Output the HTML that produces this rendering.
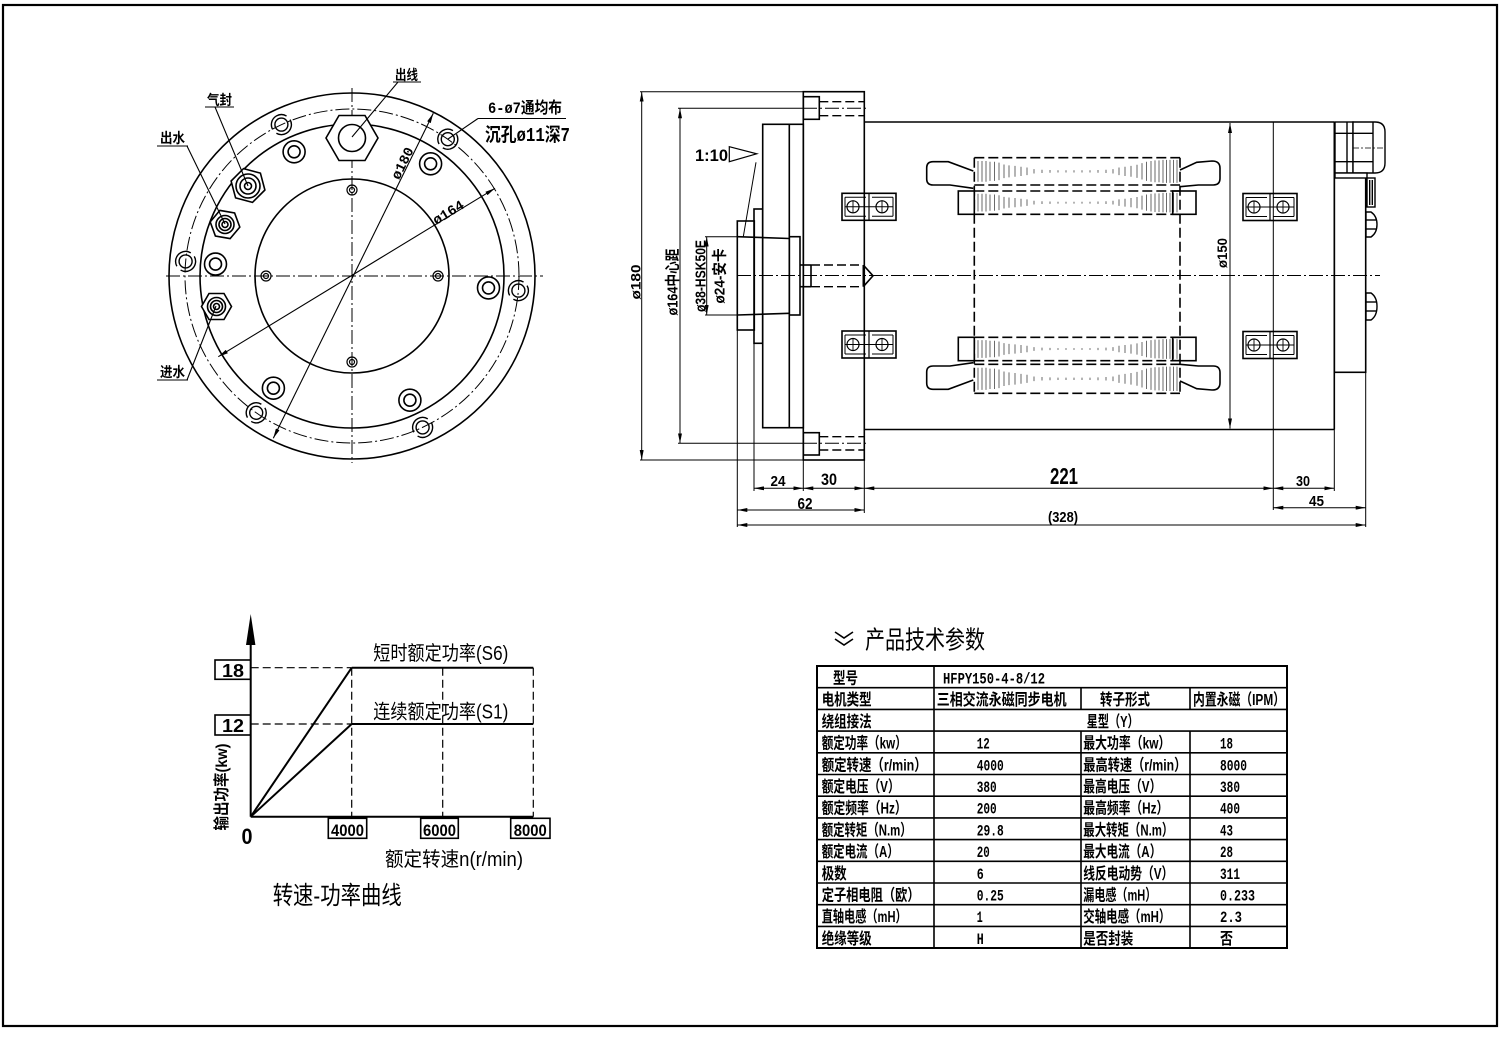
<!DOCTYPE html>
<html><head><meta charset="utf-8">
<style>
html,body{margin:0;padding:0;background:#fff;}
svg{display:block;}
text{font-family:"Liberation Sans","Noto Sans CJK SC",sans-serif;fill:#000;}
.b{font-weight:700;}
.m{font-family:"Liberation Mono","Noto Sans CJK SC",monospace;font-weight:700;}
</style></head><body>
<svg width="1500" height="1038" viewBox="0 0 1500 1038" xmlns="http://www.w3.org/2000/svg">
<defs>
<marker id="a" viewBox="0 0 10 4" refX="10" refY="2" markerWidth="10" markerHeight="4" markerUnits="userSpaceOnUse" orient="auto-start-reverse"><path d="M0,0 L10,2 L0,4 z" fill="#000"/></marker>
<g id="hatch" stroke="#444" stroke-width="0.8">
<line x1="978" y1="0.12" x2="978" y2="0.88"/><line x1="982" y1="0.12" x2="982" y2="0.88"/><line x1="986" y1="0.12" x2="986" y2="0.88"/><line x1="990" y1="0.15" x2="990" y2="0.85"/><line x1="994.5" y1="0.15" x2="994.5" y2="0.85"/><line x1="999" y1="0.18" x2="999" y2="0.82"/>
<line x1="1004" y1="0.25" x2="1004" y2="0.75"/><line x1="1009" y1="0.28" x2="1009" y2="0.72"/><line x1="1015" y1="0.3" x2="1015" y2="0.7"/><line x1="1021" y1="0.33" x2="1021" y2="0.67"/><line x1="1027" y1="0.36" x2="1027" y2="0.64"/>
<line x1="1034" y1="0.42" x2="1034" y2="0.58"/><line x1="1042" y1="0.44" x2="1042" y2="0.56"/><line x1="1050" y1="0.45" x2="1050" y2="0.55"/><line x1="1058" y1="0.46" x2="1058" y2="0.54"/><line x1="1066" y1="0.46" x2="1066" y2="0.54"/><line x1="1074" y1="0.46" x2="1074" y2="0.54"/><line x1="1082" y1="0.46" x2="1082" y2="0.54"/><line x1="1090" y1="0.46" x2="1090" y2="0.54"/><line x1="1098" y1="0.45" x2="1098" y2="0.55"/><line x1="1106" y1="0.44" x2="1106" y2="0.56"/><line x1="1113" y1="0.42" x2="1113" y2="0.58"/>
<line x1="1119" y1="0.36" x2="1119" y2="0.64"/><line x1="1125" y1="0.33" x2="1125" y2="0.67"/><line x1="1131" y1="0.3" x2="1131" y2="0.7"/><line x1="1137" y1="0.26" x2="1137" y2="0.74"/>
<line x1="1142" y1="0.2" x2="1142" y2="0.8"/><line x1="1146.5" y1="0.15" x2="1146.5" y2="0.85"/><line x1="1151" y1="0.12" x2="1151" y2="0.88"/><line x1="1155" y1="0.1" x2="1155" y2="0.9"/><line x1="1159" y1="0.1" x2="1159" y2="0.9"/><line x1="1163" y1="0.08" x2="1163" y2="0.92"/><line x1="1166.5" y1="0.08" x2="1166.5" y2="0.92"/><line x1="1170" y1="0.08" x2="1170" y2="0.92"/><line x1="1173.5" y1="0.08" x2="1173.5" y2="0.92"/><line x1="1177" y1="0.08" x2="1177" y2="0.92"/>
</g>
<g id="blk" fill="none" stroke="#000">
<rect x="0" y="0" width="54" height="27" stroke-width="1.6"/>
<line x1="27" y1="0" x2="27" y2="27" stroke-width="1.2"/>
<line x1="3" y1="4" x2="24" y2="4" stroke-width="1"/><line x1="3" y1="23" x2="24" y2="23" stroke-width="1"/>
<line x1="30" y1="4" x2="51" y2="4" stroke-width="1"/><line x1="30" y1="23" x2="51" y2="23" stroke-width="1"/>
<line x1="3" y1="4" x2="3" y2="23" stroke-width="1"/><line x1="51" y1="4" x2="51" y2="23" stroke-width="1"/>
<circle cx="11" cy="13.5" r="6" stroke-width="1.2"/><circle cx="40" cy="13.5" r="6" stroke-width="1.2"/>
<line x1="3" y1="13.5" x2="51" y2="13.5" stroke-width="1"/>
<line x1="11" y1="7" x2="11" y2="20" stroke-width="0.9"/><line x1="40" y1="7" x2="40" y2="20" stroke-width="0.9"/>
</g>
<g id="bolt" fill="none" stroke="#000" stroke-width="1.4">
<circle r="6.5"/><circle r="10" stroke-dasharray="26 5.4" transform="rotate(-30)"/>
</g>
<g id="dh" fill="none" stroke="#000" stroke-width="1.6">
<circle r="11"/><circle r="6"/>
</g>
<g id="sh" fill="none" stroke="#000" stroke-width="1.2">
<circle r="5"/><circle r="2.5"/>
</g>
</defs>

<rect x="3" y="5" width="1494" height="1021" fill="none" stroke="#000" stroke-width="2.2"/>

<!-- ================= LEFT CIRCLE VIEW ================= -->
<g fill="none" stroke="#000" stroke-width="1.6">
<circle cx="352" cy="276" r="183"/>
<circle cx="352" cy="276" r="152"/>
<circle cx="352" cy="276" r="97"/>
</g>
<circle cx="352" cy="276" r="167" fill="none" stroke="#000" stroke-width="1" stroke-dasharray="14 3 2 3"/>
<g stroke="#000" stroke-width="1" stroke-dasharray="14 3 2 3">
<line x1="166" y1="276" x2="543" y2="276"/>
<line x1="352" y1="88" x2="352" y2="463"/>
</g>
<use href="#bolt" x="518.4" y="290.6"/>
<use href="#bolt" x="422.6" y="427.4"/>
<use href="#bolt" x="256.2" y="412.8"/>
<use href="#bolt" x="185.6" y="261.4"/>
<use href="#bolt" x="281.4" y="124.6"/>
<use href="#bolt" x="447.8" y="139.2"/>
<use href="#dh" x="488.5" y="287.9"/>
<use href="#dh" x="409.9" y="400.2"/>
<use href="#dh" x="273.4" y="388.2"/>
<use href="#dh" x="215.5" y="264.1"/>
<use href="#dh" x="294.1" y="151.8"/>
<use href="#dh" x="430.6" y="163.8"/>
<use href="#sh" x="352" y="190"/>
<use href="#sh" x="266" y="276"/>
<use href="#sh" x="438" y="276"/>
<use href="#sh" x="352" y="362"/>

<g fill="#fff" stroke="#000" stroke-width="1.6">
<polygon points="326,138 339,115.5 365,115.5 378,138 365,160.5 339,160.5"/>
<circle cx="352" cy="138" r="13.5"/>
<polygon points="264.9,190.5 252.5,202.9 235.6,198.4 231.1,181.5 243.5,169.1 260.4,173.6" transform="translate(0,-0.5)"/>
<circle cx="248" cy="186" r="12"/><circle cx="248" cy="186" r="8"/><circle cx="248" cy="186" r="3.5"/>
<polygon points="239.8,227.1 230.1,238.6 215.4,236 210.2,221.9 219.9,210.4 234.6,213"/>
<circle cx="225" cy="224.5" r="9"/><circle cx="225" cy="224.5" r="6"/><circle cx="225" cy="224.5" r="3"/>
<polygon points="231.5,306.5 224,319.5 209,319.5 201.5,306.5 209,293.5 224,293.5"/>
<circle cx="216.5" cy="306.5" r="9"/><circle cx="216.5" cy="306.5" r="6"/><circle cx="216.5" cy="306.5" r="3"/>
</g>

<g stroke="#000" stroke-width="1.1" fill="none">
<line x1="393" y1="82" x2="421" y2="82"/><line x1="398" y1="82" x2="352" y2="137"/>
<line x1="205" y1="107" x2="234" y2="107"/><line x1="215" y1="107" x2="248" y2="186"/>
<line x1="157" y1="146" x2="188" y2="146"/><line x1="187" y1="146" x2="225" y2="224"/>
<line x1="157" y1="380" x2="188" y2="380"/><line x1="187" y1="380" x2="216" y2="306"/>
<line x1="478" y1="118.5" x2="566" y2="118.5"/><line x1="478" y1="118.5" x2="448" y2="139"/>
<line x1="273.3" y1="438.3" x2="433.3" y2="113.3" marker-start="url(#a)" marker-end="url(#a)"/>
<line x1="218.3" y1="356.7" x2="495" y2="188.3" marker-start="url(#a)" marker-end="url(#a)"/>
</g>
<g class="b">
<text x="395" y="80" font-size="14" textLength="23" lengthAdjust="spacingAndGlyphs">出线</text>
<text x="207" y="105" font-size="14" textLength="25" lengthAdjust="spacingAndGlyphs">气封</text>
<text x="160" y="143" font-size="14" textLength="25" lengthAdjust="spacingAndGlyphs">出水</text>
<text x="160" y="377" font-size="14" textLength="25" lengthAdjust="spacingAndGlyphs">进水</text>
</g>
<text class="m" x="488" y="113" font-size="16" textLength="74" lengthAdjust="spacingAndGlyphs">6-ø7通均布</text>
<text class="m" x="485" y="141" font-size="19" textLength="85" lengthAdjust="spacingAndGlyphs">沉孔ø11深7</text>
<text class="m" transform="translate(406.5,165.2) rotate(-63.8)" font-size="14" text-anchor="middle" textLength="34" lengthAdjust="spacingAndGlyphs">ø180</text>
<text class="m" transform="translate(450.6,216.3) rotate(-31.5)" font-size="14" text-anchor="middle" textLength="34" lengthAdjust="spacingAndGlyphs">ø164</text>

<!-- ================= RIGHT SIDE VIEW ================= -->
<g fill="none" stroke="#000" stroke-width="1.6">
<rect x="803.3" y="91.7" width="61" height="368.3"/>
<rect x="762.7" y="124.3" width="40.6" height="303.4"/>
<line x1="789.3" y1="124.3" x2="789.3" y2="427.7"/>
<rect x="754" y="209" width="8.7" height="134.3"/>
<rect x="737.3" y="221" width="17" height="109"/>
<line x1="737.3" y1="236.7" x2="789.3" y2="238.5"/>
<line x1="737.3" y1="315" x2="789.3" y2="313.3"/>
<rect x="789.3" y="236.7" width="10.7" height="78.3"/>
<rect x="803.3" y="96.7" width="16" height="22.6"/>
<rect x="803.3" y="432.7" width="16" height="22.3"/>
<line x1="864.3" y1="122" x2="1334.3" y2="122"/>
<line x1="864.3" y1="429.5" x2="1334.3" y2="429.5"/>
<line x1="1334.3" y1="122" x2="1334.3" y2="429.5"/>
<rect x="1334.3" y="176.7" width="31.4" height="195.6"/>
<line x1="800" y1="265" x2="811" y2="265"/><line x1="800" y1="286.7" x2="811" y2="286.7"/><line x1="811" y1="265" x2="811" y2="286.7"/>
<polyline points="863.3,265 873,275.8 863.3,286.7"/>
<line x1="863.3" y1="265" x2="863.3" y2="286.7"/>
</g>
<g fill="none" stroke="#000" stroke-width="1.4" stroke-dasharray="9 4">
<line x1="819.3" y1="101.7" x2="864.3" y2="101.7"/><line x1="819.3" y1="115.7" x2="864.3" y2="115.7"/>
<line x1="819.3" y1="436.7" x2="864.3" y2="436.7"/><line x1="819.3" y1="450" x2="864.3" y2="450"/>
<line x1="811" y1="265" x2="863" y2="265"/><line x1="811" y1="286.7" x2="863" y2="286.7"/>
</g>
<g stroke="#000" stroke-width="1" stroke-dasharray="14 3 2 3">
<line x1="803" y1="108.3" x2="866" y2="108.3"/>
<line x1="803" y1="443.3" x2="866" y2="443.3"/>
<line x1="737" y1="275.5" x2="1380" y2="275.5"/>
</g>

<g fill="#fff" stroke="#000" stroke-width="1.4">
<rect x="1335" y="122" width="18" height="51"/>
<path d="M1353,122 L1375,122 Q1385,122 1385,132 L1385,163 Q1385,173 1375,173 L1353,173 Z"/>
<line x1="1335" y1="133.3" x2="1373" y2="133.3"/><line x1="1335" y1="161.7" x2="1373" y2="161.7"/>
<line x1="1373" y1="122" x2="1373" y2="173"/><line x1="1347" y1="122" x2="1347" y2="173"/>
<rect x="1335" y="173" width="32" height="5"/>
<rect x="1367" y="178" width="8" height="29"/>
<line x1="1369.7" y1="180" x2="1369.7" y2="205"/><line x1="1372.3" y1="180" x2="1372.3" y2="205"/>
<path d="M1366,212 L1371,212 Q1377,216 1377,224.5 Q1377,233 1371,237 L1366,237 Z"/>
<line x1="1366" y1="220" x2="1376" y2="220"/><line x1="1366" y1="229" x2="1376" y2="229"/>
<path d="M1366,293 L1371,293 Q1377,297 1377,306.5 Q1377,316 1371,320 L1366,320 Z"/>
<line x1="1366" y1="302" x2="1376" y2="302"/><line x1="1366" y1="311" x2="1376" y2="311"/>
</g>
<line x1="1353" y1="148" x2="1385" y2="148" stroke="#000" stroke-width="0.8" stroke-dasharray="6 2 2 2"/>

<use href="#blk" x="842" y="193.3"/>
<use href="#blk" x="842" y="331"/>
<use href="#blk" x="1243" y="193.5"/>
<use href="#blk" x="1243" y="331.5"/>

<use href="#hatch" transform="translate(0,157.7) scale(1,27.3)"/>
<use href="#hatch" transform="translate(0,191) scale(1,23.3)"/>
<use href="#hatch" transform="translate(0,337.3) scale(1,23.4)"/>
<use href="#hatch" transform="translate(0,364.3) scale(1,29)"/>
<g fill="none" stroke="#000" stroke-width="1.6" stroke-dasharray="10 4">
<line x1="974.3" y1="157.7" x2="974.3" y2="393.3"/>
<line x1="1180" y1="157.7" x2="1180" y2="393.3"/>
<line x1="974.3" y1="157.7" x2="1180" y2="157.7"/>
<line x1="974.3" y1="185" x2="1180" y2="185"/>
<line x1="974.3" y1="191" x2="1180" y2="191"/>
<line x1="974.3" y1="214.3" x2="1180" y2="214.3"/>
<line x1="974.3" y1="337.3" x2="1180" y2="337.3"/>
<line x1="974.3" y1="360.7" x2="1180" y2="360.7"/>
<line x1="974.3" y1="364.3" x2="1180" y2="364.3"/>
<line x1="974.3" y1="393.3" x2="1180" y2="393.3"/>
</g>
<g fill="none" stroke="#000" stroke-width="1.6">
<rect x="958.3" y="191" width="16" height="23.3"/>
<rect x="958.3" y="337.3" width="16" height="23.4"/>
<rect x="1172.7" y="191" width="23.3" height="23.3"/>
<rect x="1172.7" y="337.3" width="23.3" height="23.4"/>
<path fill="none" d="M973.3,171 L948.3,161.7 L933,161.7 Q926.7,161.7 926.7,168 L926.7,179 Q926.7,185 933.3,185 L950,185 L973.3,188.3"/>
<path fill="none" d="M1180,170 L1196.7,162.3 L1212,161 Q1220,161 1220,168.3 L1220,178.3 Q1220,185 1213.3,185 L1198.3,185 L1180,186.7"/>
<g transform="translate(0,551) scale(1,-1)">
<path fill="none" d="M973.3,171 L948.3,161.7 L933,161.7 Q926.7,161.7 926.7,168 L926.7,179 Q926.7,185 933.3,185 L950,185 L973.3,188.3"/>
<path fill="none" d="M1180,170 L1196.7,162.3 L1212,161 Q1220,161 1220,168.3 L1220,178.3 Q1220,185 1213.3,185 L1198.3,185 L1180,186.7"/>
</g>
</g>

<g stroke="#000" stroke-width="1" fill="none">
<line x1="640" y1="91.7" x2="803.3" y2="91.7"/>
<line x1="640" y1="460" x2="803.3" y2="460"/>
<line x1="678" y1="108.3" x2="803.3" y2="108.3"/>
<line x1="678" y1="443.3" x2="803.3" y2="443.3"/>
<line x1="705" y1="236.7" x2="737.3" y2="236.7"/>
<line x1="705" y1="315" x2="737.3" y2="315"/>
<line x1="737.3" y1="330" x2="737.3" y2="527"/>
<line x1="754" y1="343.3" x2="754" y2="491"/>
<line x1="803.3" y1="460" x2="803.3" y2="491"/>
<line x1="864.3" y1="460" x2="864.3" y2="513"/>
<line x1="1273.3" y1="122" x2="1273.3" y2="510"/>
<line x1="1334.3" y1="429.5" x2="1334.3" y2="491"/>
<line x1="1365.7" y1="372.3" x2="1365.7" y2="527"/>
<line x1="1230" y1="123" x2="1230" y2="428.5" marker-start="url(#a)" marker-end="url(#a)"/>
<line x1="641.7" y1="91.7" x2="641.7" y2="460" marker-start="url(#a)" marker-end="url(#a)"/>
<line x1="680" y1="108.3" x2="680" y2="443.3" marker-start="url(#a)" marker-end="url(#a)"/>
<line x1="706.7" y1="236.7" x2="706.7" y2="315" marker-start="url(#a)" marker-end="url(#a)"/>
<line x1="754" y1="488.3" x2="803.3" y2="488.3" marker-start="url(#a)" marker-end="url(#a)"/>
<line x1="803.3" y1="488.3" x2="864.3" y2="488.3" marker-start="url(#a)" marker-end="url(#a)"/>
<line x1="864.3" y1="488.3" x2="1273.3" y2="488.3" marker-start="url(#a)" marker-end="url(#a)"/>
<line x1="1273.3" y1="488.3" x2="1334.3" y2="488.3" marker-start="url(#a)" marker-end="url(#a)"/>
<line x1="737.3" y1="510" x2="864.3" y2="510" marker-start="url(#a)" marker-end="url(#a)"/>
<line x1="1273.3" y1="507.7" x2="1365.7" y2="507.7" marker-start="url(#a)" marker-end="url(#a)"/>
<line x1="737.3" y1="525" x2="1365.7" y2="525" marker-start="url(#a)" marker-end="url(#a)"/>
<line x1="756" y1="162.3" x2="743.3" y2="236.7"/>
</g>
<polygon points="729.3,146.7 756.7,153.8 729.3,161.7" fill="none" stroke="#000" stroke-width="1.2"/>
<g class="m">
<text x="695" y="161" font-size="17" textLength="33" lengthAdjust="spacingAndGlyphs">1:10</text>
<text transform="translate(640.5,282) rotate(-90)" font-size="14" text-anchor="middle" textLength="35" lengthAdjust="spacingAndGlyphs">ø180</text>
<text transform="translate(677.5,282) rotate(-90)" font-size="15" text-anchor="middle" textLength="67" lengthAdjust="spacingAndGlyphs">ø164中心距</text>
<text transform="translate(705.5,276) rotate(-90)" font-size="15" text-anchor="middle" textLength="72" lengthAdjust="spacingAndGlyphs">ø38-HSK50E</text>
<text transform="translate(724.5,276) rotate(-90)" font-size="15" text-anchor="middle" textLength="55" lengthAdjust="spacingAndGlyphs">ø24-安卡</text>
<text transform="translate(1227,253) rotate(-90)" font-size="14" text-anchor="middle" textLength="30" lengthAdjust="spacingAndGlyphs">ø150</text>
<text x="778" y="486" font-size="15" text-anchor="middle" textLength="15" lengthAdjust="spacingAndGlyphs">24</text>
<text x="829" y="485" font-size="17" text-anchor="middle" textLength="16" lengthAdjust="spacingAndGlyphs">30</text>
<text x="805" y="509" font-size="16" text-anchor="middle" textLength="15" lengthAdjust="spacingAndGlyphs">62</text>
<text x="1064" y="484" font-size="23" text-anchor="middle" textLength="28" lengthAdjust="spacingAndGlyphs">221</text>
<text x="1303" y="486" font-size="15" text-anchor="middle" textLength="14" lengthAdjust="spacingAndGlyphs">30</text>
<text x="1316.5" y="506" font-size="15" text-anchor="middle" textLength="15" lengthAdjust="spacingAndGlyphs">45</text>
<text x="1063" y="522" font-size="15" text-anchor="middle" textLength="30" lengthAdjust="spacingAndGlyphs">(328)</text>
</g>

<!-- ================= CHART ================= -->
<g stroke="#000" fill="none">
<line x1="250.7" y1="640" x2="250.7" y2="816.7" stroke-width="2"/>
<line x1="250.7" y1="816.7" x2="533.3" y2="816.7" stroke-width="2"/>
<rect x="215" y="660" width="35.7" height="19.3" stroke-width="1.6"/>
<rect x="215" y="715" width="35.7" height="20" stroke-width="1.6"/>
<rect x="328.3" y="818.3" width="38.4" height="20" stroke-width="1.6"/>
<rect x="420.7" y="818.3" width="37.6" height="20" stroke-width="1.6"/>
<rect x="510.7" y="818.3" width="39.3" height="20" stroke-width="1.6"/>
<line x1="351.7" y1="667.7" x2="533.3" y2="667.7" stroke-width="2"/>
<line x1="351.7" y1="724" x2="533.3" y2="724" stroke-width="2"/>
<line x1="250.7" y1="816.7" x2="351.7" y2="667.7" stroke-width="2"/>
<line x1="250.7" y1="816.7" x2="351.7" y2="724" stroke-width="2"/>
<g stroke-width="1.2" stroke-dasharray="8 4">
<line x1="250.7" y1="667.7" x2="351.7" y2="667.7"/>
<line x1="250.7" y1="724" x2="351.7" y2="724"/>
<line x1="351.7" y1="667.7" x2="351.7" y2="816.7"/>
<line x1="442.7" y1="667.7" x2="442.7" y2="816.7"/>
<line x1="533.3" y1="667.7" x2="533.3" y2="816.7"/>
</g>
</g>
<polygon points="250.7,614 246,645 255.4,645" fill="#000"/>
<g class="m">
<text x="233" y="677" font-size="18" text-anchor="middle" textLength="22" lengthAdjust="spacingAndGlyphs">18</text>
<text x="233" y="732" font-size="18" text-anchor="middle" textLength="22" lengthAdjust="spacingAndGlyphs">12</text>
<text x="347.5" y="836" font-size="17" text-anchor="middle" textLength="33" lengthAdjust="spacingAndGlyphs">4000</text>
<text x="439.5" y="836" font-size="17" text-anchor="middle" textLength="33" lengthAdjust="spacingAndGlyphs">6000</text>
<text x="530.3" y="836" font-size="17" text-anchor="middle" textLength="33" lengthAdjust="spacingAndGlyphs">8000</text>
<text x="247" y="844" font-size="22" text-anchor="middle" textLength="11" lengthAdjust="spacingAndGlyphs">0</text>
</g>
<text x="373.3" y="660" font-size="20" textLength="135" lengthAdjust="spacingAndGlyphs">短时额定功率(S6)</text>
<text x="373.3" y="718.5" font-size="20" textLength="135" lengthAdjust="spacingAndGlyphs">连续额定功率(S1)</text>
<text x="385" y="866" font-size="20" textLength="138" lengthAdjust="spacingAndGlyphs">额定转速n(r/min)</text>
<text x="272.7" y="904" font-size="25" textLength="129" lengthAdjust="spacingAndGlyphs">转速-功率曲线</text>
<text class="b" transform="translate(227,787) rotate(-90)" font-size="16" text-anchor="middle" textLength="87" lengthAdjust="spacingAndGlyphs">输出功率(kw)</text>

<!-- ================= TABLE ================= -->
<polyline points="835,632 844,638 853,632" fill="none" stroke="#000" stroke-width="1.6"/>
<polyline points="835,639 844,645 853,639" fill="none" stroke="#000" stroke-width="1.6"/>
<text x="865" y="648.5" font-size="25" textLength="120" lengthAdjust="spacingAndGlyphs">产品技术参数</text>

<g stroke="#000" fill="none">
<rect x="817" y="666" width="470" height="282" stroke-width="2"/>
<g stroke-width="1.6">
<line x1="817" y1="687.7" x2="1287" y2="687.7"/>
<line x1="817" y1="709.4" x2="1287" y2="709.4"/>
<line x1="817" y1="731.1" x2="1287" y2="731.1"/>
<line x1="817" y1="752.8" x2="1287" y2="752.8"/>
<line x1="817" y1="774.5" x2="1287" y2="774.5"/>
<line x1="817" y1="796.2" x2="1287" y2="796.2"/>
<line x1="817" y1="817.9" x2="1287" y2="817.9"/>
<line x1="817" y1="839.6" x2="1287" y2="839.6"/>
<line x1="817" y1="861.3" x2="1287" y2="861.3"/>
<line x1="817" y1="883" x2="1287" y2="883"/>
<line x1="817" y1="904.7" x2="1287" y2="904.7"/>
<line x1="817" y1="926.4" x2="1287" y2="926.4"/>
<line x1="934" y1="666" x2="934" y2="948"/>
<line x1="1081" y1="687.7" x2="1081" y2="709.4"/>
<line x1="1190" y1="687.7" x2="1190" y2="709.4"/>
<line x1="1081" y1="731.1" x2="1081" y2="948"/>
<line x1="1190" y1="731.1" x2="1190" y2="948"/>
</g>
</g>
<g class="b" font-size="16">
<text x="833" y="683.5" textLength="25" lengthAdjust="spacingAndGlyphs">型号</text>
<text class="m" x="943" y="683.5" textLength="102" lengthAdjust="spacingAndGlyphs">HFPY150-4-8/12</text>
<text x="821.7" y="705.2" textLength="50" lengthAdjust="spacingAndGlyphs">电机类型</text>
<text x="936.7" y="705.2" textLength="130" lengthAdjust="spacingAndGlyphs">三相交流永磁同步电机</text>
<text x="1100" y="705.2" textLength="50" lengthAdjust="spacingAndGlyphs">转子形式</text>
<text x="1193" y="705.2" textLength="92" lengthAdjust="spacingAndGlyphs">内置永磁（IPM）</text>
<text x="821.7" y="726.9" textLength="50" lengthAdjust="spacingAndGlyphs">绕组接法</text>
<text x="1086.7" y="726.9" textLength="52" lengthAdjust="spacingAndGlyphs">星型（Y）</text>

<text x="821.7" y="748.6" textLength="85" lengthAdjust="spacingAndGlyphs">额定功率（kw）</text>
<text class="m" x="976.7" y="748.6" textLength="13" lengthAdjust="spacingAndGlyphs">12</text>
<text x="1083.3" y="748.6" textLength="87" lengthAdjust="spacingAndGlyphs">最大功率（kw）</text>
<text class="m" x="1220" y="748.6" textLength="13" lengthAdjust="spacingAndGlyphs">18</text>

<text x="821.7" y="770.3" textLength="105" lengthAdjust="spacingAndGlyphs">额定转速（r/min）</text>
<text class="m" x="976.7" y="770.3" textLength="27" lengthAdjust="spacingAndGlyphs">4000</text>
<text x="1083.3" y="770.3" textLength="103" lengthAdjust="spacingAndGlyphs">最高转速（r/min）</text>
<text class="m" x="1220" y="770.3" textLength="27" lengthAdjust="spacingAndGlyphs">8000</text>

<text x="821.7" y="792" textLength="78" lengthAdjust="spacingAndGlyphs">额定电压（V）</text>
<text class="m" x="976.7" y="792" textLength="20" lengthAdjust="spacingAndGlyphs">380</text>
<text x="1083.3" y="792" textLength="78" lengthAdjust="spacingAndGlyphs">最高电压（V）</text>
<text class="m" x="1220" y="792" textLength="20" lengthAdjust="spacingAndGlyphs">380</text>

<text x="821.7" y="813.7" textLength="85" lengthAdjust="spacingAndGlyphs">额定频率（Hz）</text>
<text class="m" x="976.7" y="813.7" textLength="20" lengthAdjust="spacingAndGlyphs">200</text>
<text x="1083.3" y="813.7" textLength="85" lengthAdjust="spacingAndGlyphs">最高频率（Hz）</text>
<text class="m" x="1220" y="813.7" textLength="20" lengthAdjust="spacingAndGlyphs">400</text>

<text x="821.7" y="835.4" textLength="90" lengthAdjust="spacingAndGlyphs">额定转矩（N.m）</text>
<text class="m" x="976.7" y="835.4" textLength="27" lengthAdjust="spacingAndGlyphs">29.8</text>
<text x="1083.3" y="835.4" textLength="90" lengthAdjust="spacingAndGlyphs">最大转矩（N.m）</text>
<text class="m" x="1220" y="835.4" textLength="13" lengthAdjust="spacingAndGlyphs">43</text>

<text x="821.7" y="857.1" textLength="77" lengthAdjust="spacingAndGlyphs">额定电流（A）</text>
<text class="m" x="976.7" y="857.1" textLength="13" lengthAdjust="spacingAndGlyphs">20</text>
<text x="1083.3" y="857.1" textLength="78" lengthAdjust="spacingAndGlyphs">最大电流（A）</text>
<text class="m" x="1220" y="857.1" textLength="13" lengthAdjust="spacingAndGlyphs">28</text>

<text x="821.7" y="878.8" textLength="25" lengthAdjust="spacingAndGlyphs">极数</text>
<text class="m" x="976.7" y="878.8" textLength="7" lengthAdjust="spacingAndGlyphs">6</text>
<text x="1083.3" y="878.8" textLength="90" lengthAdjust="spacingAndGlyphs">线反电动势（V）</text>
<text class="m" x="1220" y="878.8" textLength="20" lengthAdjust="spacingAndGlyphs">311</text>

<text x="821.7" y="900.5" textLength="98" lengthAdjust="spacingAndGlyphs">定子相电阻（欧）</text>
<text class="m" x="976.7" y="900.5" textLength="27" lengthAdjust="spacingAndGlyphs">0.25</text>
<text x="1083.3" y="900.5" textLength="73" lengthAdjust="spacingAndGlyphs">漏电感（mH）</text>
<text class="m" x="1220" y="900.5" textLength="35" lengthAdjust="spacingAndGlyphs">0.233</text>

<text x="821.7" y="922.2" textLength="85" lengthAdjust="spacingAndGlyphs">直轴电感（mH）</text>
<text class="m" x="976.7" y="922.2" textLength="6" lengthAdjust="spacingAndGlyphs">1</text>
<text x="1083.3" y="922.2" textLength="87" lengthAdjust="spacingAndGlyphs">交轴电感（mH）</text>
<text class="m" x="1220" y="922.2" textLength="22" lengthAdjust="spacingAndGlyphs">2.3</text>

<text x="821.7" y="943.9" textLength="50" lengthAdjust="spacingAndGlyphs">绝缘等级</text>
<text class="m" x="976.7" y="943.9" textLength="7" lengthAdjust="spacingAndGlyphs">H</text>
<text x="1083.3" y="943.9" textLength="50" lengthAdjust="spacingAndGlyphs">是否封装</text>
<text x="1220" y="943.9" textLength="13" lengthAdjust="spacingAndGlyphs">否</text>
</g>
</svg>
</body></html>
